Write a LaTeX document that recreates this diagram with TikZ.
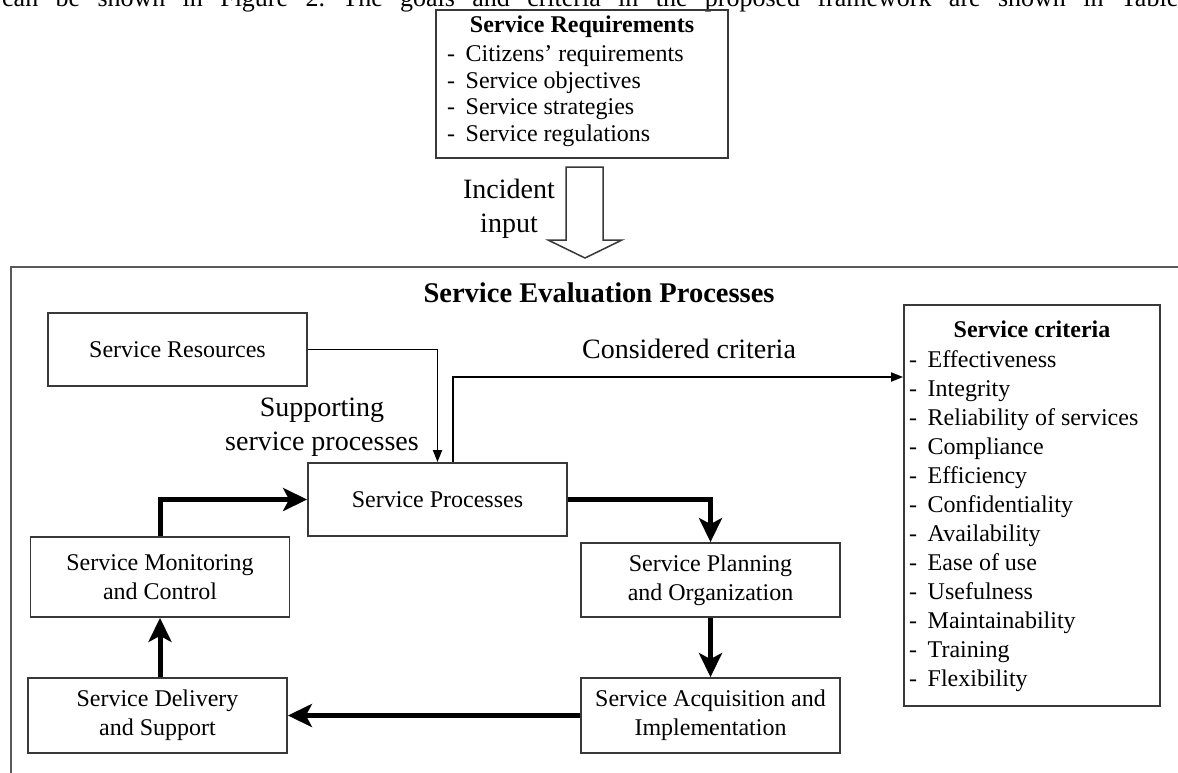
\documentclass[tikz,border=0pt]{standalone}
\usepackage{fontspec}
\setmainfont{Liberation Serif}
\usetikzlibrary{arrows.meta,calc}
\newcommand\lstdash{\makebox[18.5pt][l]{-}}
\begin{document}
\frenchspacing
\begin{tikzpicture}[x=1pt,y=-1pt,
  box/.style={draw=black!78, line width=1.8pt, rectangle, minimum width=259pt, inner sep=0pt, align=center, font=\fontsize{24}{29}\selectfont},
  lbl/.style={inner sep=0pt, align=center, font=\fontsize{28}{34}\selectfont},
  lst/.style={inner sep=0pt, align=left, font=\fontsize{24}{26.5}\selectfont},
  ttl/.style={inner sep=0pt, anchor=base, font=\fontsize{24}{29}\selectfont\bfseries},
  conn/.style={line width=1.8pt, -{Triangle[length=12pt,width=9pt]}},
  flow/.style={line width=5pt, -{Stealth[length=24pt,width=23pt,inset=6pt]}},
]
\useasboundingbox (0,0) rectangle (1178,772);
\clip (0,0) rectangle (1178,772);
\fill[white] (0,0) rectangle (1178,772);

% cut-off text line at the top
\node[anchor=base west, inner sep=0pt, font=\fontsize{26}{30}\selectfont] (cut) at (2,6)
  {\makebox[1176pt][s]{can be shown in Figure 2. The goals and criteria in the proposed framework are shown in Table}};

% service requirements
\node[box, minimum width=292pt, minimum height=148pt] (req) at (582,84) {};
\node[ttl] (reqtitle) at (582,32) {Service Requirements};
\node[lst, anchor=north west] (reqlist) at (447,45.6)
  {\lstdash Citizens’ requirements\\ \lstdash Service objectives\\ \lstdash Service strategies\\ \lstdash Service regulations};

% incident input block arrow
\draw[line width=1.5pt, draw=black!78, fill=white] (566,167) -- (603,167) -- (603,240) -- (622,240)
  -- (585,258) -- (548,240) -- (566,240) -- cycle;
\node[lbl] (inc) at (509,208.4) {Incident\\input};

% outer frame
\draw[line width=2.5pt, draw=black!65] (1185,267) -- (11,267) -- (11,780);
\node[lbl, font=\fontsize{28.5}{34}\selectfont\bfseries, anchor=base] (setitle) at (599,302) {Service Evaluation Processes};

% boxes
\node[box, minimum height=73pt] (sr) at (177.5,349.5) {Service Resources};
\node[box, minimum height=73pt] (sp) at (437.5,499.5) {Service Processes};
\node[box, minimum height=80pt] (sm) at (160,577) {Service Monitoring\\and Control};
\node[box, minimum height=75pt] (sd) at (157.5,715.5) {Service Delivery\\and Support};
\node[box, minimum height=74pt] (pl) at (710.5,580) {Service Planning\\and Organization};
\node[box, minimum height=75pt] (ac) at (710.5,715.5) {Service Acquisition and\\Implementation};

% criteria
\node[box, minimum width=256pt, minimum height=401pt] (crit) at (1032,505.5) {};
\node[ttl] (crittitle) at (1032,337) {Service criteria};
\node[lst, anchor=north west, font=\fontsize{24}{29}\selectfont] (critlist) at (909,350.6)
  {\lstdash Effectiveness\\ \lstdash Integrity\\ \lstdash Reliability of services\\ \lstdash Compliance\\
   \lstdash Efficiency\\ \lstdash Confidentiality\\ \lstdash Availability\\ \lstdash Ease of use\\
   \lstdash Usefulness\\ \lstdash Maintainability\\ \lstdash Training\\ \lstdash Flexibility};

% labels
\node[lbl] (sup) at (322,427.5) {Supporting\\service processes};
\node[lbl, anchor=base] (cons) at (689,358) {Considered criteria};

% connectors
\draw[conn] (sr.east) -| (sp.north);
\coordinate (ccorner) at (453,377);
\draw[conn] (sp.north -| ccorner) |- (crit.west |- ccorner);
\draw[flow] (sm.north) |- (sp.west);
\draw[flow] (sp.east) -| (pl.north);
\draw[flow] (pl.south) -- (ac.north);
\draw[flow] (ac.west) -- (sd.east);
\draw[flow] (sm.south |- sd.north) -- (sm.south);
\end{tikzpicture}
\end{document}
